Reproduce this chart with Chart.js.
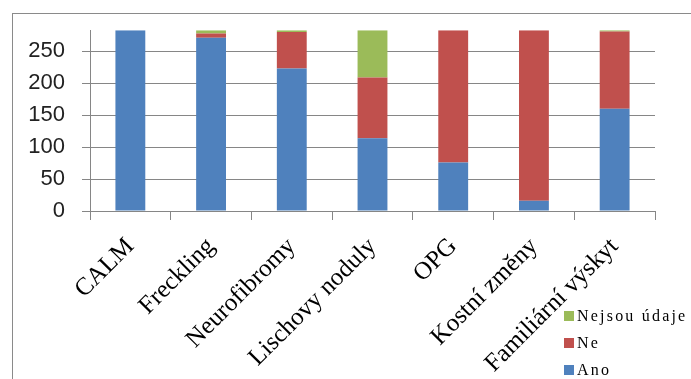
<!DOCTYPE html>
<html>
<head>
<meta charset="utf-8">
<script src="https://cdn.jsdelivr.net/npm/chart.js@4"></script>
<style>
  html, body { margin: 0; padding: 0; background: #fff; }
  #wrap { width: 691px; height: 379px; position: relative; }
</style>
</head>
<body>
<div id="wrap"><canvas id="c" width="691" height="379"></canvas></div>
<script>
const categories = ['CALM', 'Freckling', 'Neurofibromy', 'Lischovy noduly', 'OPG', 'Kostní změny', 'Familiární výskyt'];
const seriesNames = ['Ano', 'Ne', 'Nejsou údaje'];
const ano = [283, 271, 223, 114, 76, 16, 160];
const ne = [0, 7, 57, 95, 207, 267, 121];
const nejsou = [0, 5, 3, 74, 0, 0, 2];
const yTicks = [0, 50, 100, 150, 200, 250];
const yMax = 283;
const colors = ['#4F81BD', '#C0504D', '#9BBB59'];
const gridColor = '#868686';

const frame = {
  id: 'frame',
  beforeDraw(chart) {
    const ctx = chart.ctx;
    ctx.save();
    ctx.fillStyle = '#fff';
    ctx.fillRect(0, 0, chart.width, chart.height);
    ctx.strokeStyle = '#8a8a8a';
    ctx.lineWidth = 1;
    ctx.strokeRect(12.5, 13.5, 900, 900);
    ctx.restore();
  }
};

const customLegend = {
  id: 'customLegend',
  afterDraw(chart) {
    const ctx = chart.ctx;
    ctx.save();
    ctx.font = '16px "Liberation Serif"';
    ctx.letterSpacing = '2.2px';
    ctx.textBaseline = 'middle';
    ctx.textAlign = 'left';
    const ys = [370, 343, 316];
    chart.data.datasets.forEach((ds, i) => {
      const y = ys[i];
      ctx.fillStyle = ds.backgroundColor;
      ctx.fillRect(564, y - 5, 10, 10);
      ctx.fillStyle = '#000';
      ctx.fillText(ds.label, 577, y + 1);
    });
    ctx.restore();
  }
};

new Chart(document.getElementById('c'), {
  type: 'bar',
  data: {
    labels: categories,
    datasets: [
      { label: seriesNames[0], data: ano, backgroundColor: colors[0] },
      { label: seriesNames[1], data: ne, backgroundColor: colors[1] },
      { label: seriesNames[2], data: nejsou, backgroundColor: colors[2] }
    ]
  },
  options: {
    responsive: false,
    animation: false,
    devicePixelRatio: 1,
    layout: { padding: { left: 0, top: 28, right: 36, bottom: 0 } },
    datasets: { bar: { categoryPercentage: 1, barPercentage: 0.37 } },
    plugins: {
      legend: { display: false },
      tooltip: { enabled: false }
    },
    scales: {
      x: {
        stacked: true,
        afterFit(s) { s.height = 168; },
        grid: { offset: true, drawOnChartArea: false, drawTicks: true, tickLength: 9, color: gridColor },
        border: { display: true, color: gridColor },
        ticks: {
          minRotation: 45, maxRotation: 45, autoSkip: false,
          padding: 12,
          color: '#000',
          font: { family: '"Liberation Serif"', size: 25 }
        }
      },
      y: {
        stacked: true,
        min: 0, max: yMax,
        afterFit(s) { s.width = 90; },
        afterBuildTicks(s) { s.ticks = yTicks.map(v => ({ value: v })); },
        grid: { color: gridColor, tickLength: 8 },
        border: { display: true, color: gridColor },
        ticks: {
          padding: 17,
          color: '#222',
          font: { family: '"Liberation Sans"', size: 22 }
        }
      }
    }
  },
  plugins: [frame, customLegend]
});
</script>
</body>
</html>
